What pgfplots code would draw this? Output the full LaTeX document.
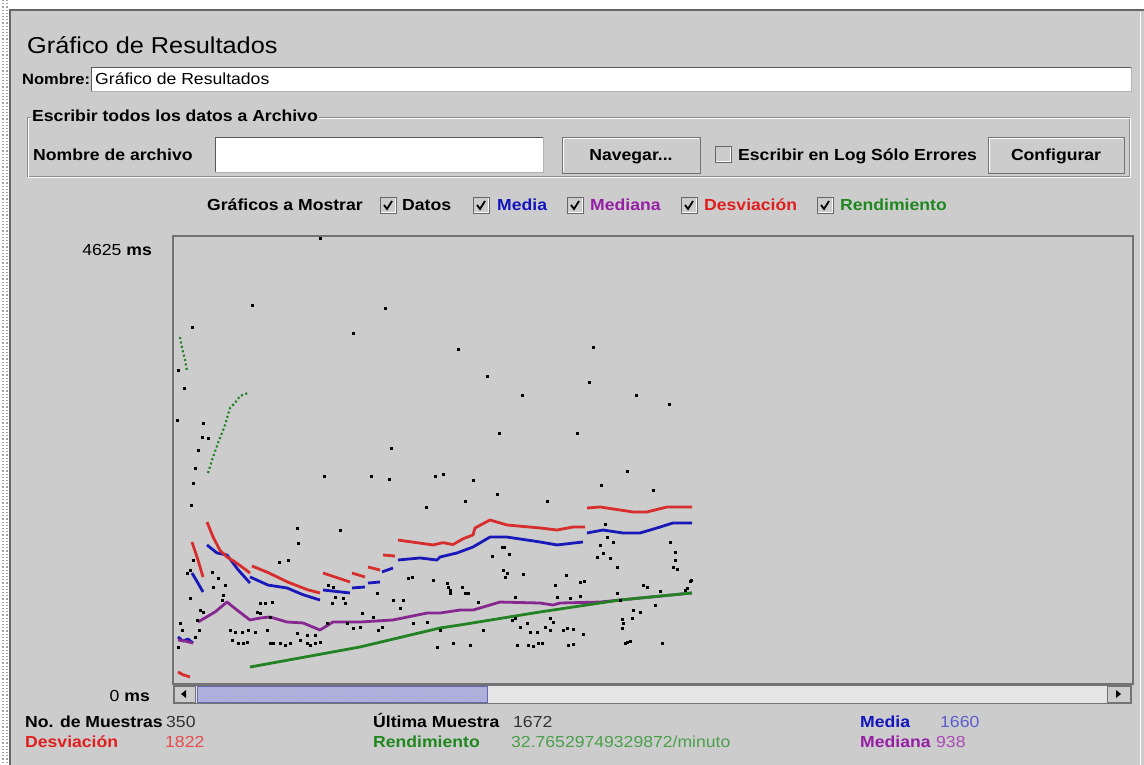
\documentclass[border=0pt]{standalone}
\usepackage{fontspec}
\setmainfont{Liberation Sans}[FakeStretch=1.1]
\usepackage{pgfplots}
\pgfplotsset{compat=1.18}
\usetikzlibrary{patterns}
\definecolor{bg}{RGB}{204,204,204}
\definecolor{jblue}{RGB}{20,20,190}
\definecolor{jpurple}{RGB}{150,30,165}
\definecolor{jred}{RGB}{225,30,30}
\definecolor{jgreen}{RGB}{30,135,30}
\definecolor{lred}{RGB}{215,45,45}
\definecolor{lblue}{RGB}{25,25,185}
\definecolor{lpurple}{RGB}{135,40,145}
\definecolor{lgreen}{RGB}{35,130,35}
\definecolor{thumb}{RGB}{172,172,225}
\newcommand\B{\fontsize{16}{19}\selectfont\bfseries}
\newcommand\R{\fontsize{16}{19}\selectfont}
\pgfplotstableread{
x y
147 4740
79 4044
212 4013
180 3754
285 3588
19 3816
5 3370
11 3184
4 2852
30 2821
29 2675
218 2561
314 3308
349 3111
420 3609
416 3246
463 3111
496 3018
326 2717
404 2717
35 2665
25 2541
22 2354
20 2198
18 1970
151 2271
198 2271
216 2240
262 2271
270 2292
253 1950
124 1732
167 1711
125 1576
106 1379
115 1400
39 1276
45 1213
40 1120
52 1141
17 1006
27 881
30 861
24 778
49 985
50 1037
87 954
92 954
99 964
155 1141
160 1120
162 1016
159 954
170 1006
172 954
204 1058
220 985
230 985
227 902
239 1224
235 1213
260 1193
274 1161
275 1120
277 1089
189 850
200 809
209 705
205 674
187 705
180 695
84 861
87 850
97 809
57 674
62 653
69 653
75 674
59 570
65 539
70 539
74 550
82 653
94 674
97 539
100 539
107 539
112 519
117 539
124 643
127 570
134 539
137 519
142 539
147 550
134 622
142 622
154 747
174 747
240 747
254 757
264 498
280 539
267 674
7 747
9 674
5 498
22 601
26 674
17 1296
20 1400
14 1265
300 2230
324 2084
292 2012
374 2012
454 2323
428 2178
480 2126
432 1773
434 1638
440 1587
427 1556
430 1473
424 1431
437 1421
444 1327
329 1535
331 1535
319 1441
336 1462
497 1587
502 1483
502 1400
500 1327
504 1307
277 1058
289 1120
292 1058
295 1058
330 1296
334 1265
332 1224
350 1255
393 1244
407 1172
411 1182
382 1141
444 1058
447 985
470 1141
474 1120
487 1078
517 1182
512 1089
342 1016
384 1016
397 1006
407 1027
305 964
342 798
339 778
347 705
354 747
357 653
364 653
372 705
377 798
380 757
377 674
390 674
394 695
400 684
410 633
449 788
450 747
449 695
459 798
460 881
467 861
454 550
457 560
452 539
489 539
482 933
297 519
344 519
355 519
360 508
365 539
369 539
395 519
400 529
310 674
518 1193
514 1110
}\datos
\begin{document}
\begin{tikzpicture}[x=1pt,y=1pt]
\useasboundingbox (0,0) rectangle (1144,-765);
\fill[white] (0,0) rectangle (1144,-765);
\fill[bg] (10,-10) rectangle (1144,-765);
\draw[black!35, dotted, line width=1.2pt] (3,0) -- (3,-765);
\draw[black!35, dotted, line width=1.2pt] (7,0) -- (7,-765);
\draw[black!60, line width=1.6pt] (10,-765) -- (10,-10) -- (1144,-10);
\draw[white, line width=0.8pt] (1140,-12) -- (1140,-765);
% title
\node[anchor=base west, inner sep=0] at (27,-54) {\fontsize{23}{27}\selectfont Gráfico de Resultados};
% Nombre row
\node[anchor=base west, inner sep=0] at (22,-85) {\fontsize{15}{18}\selectfont\bfseries Nombre:};
\fill[white] (91,-67) rectangle (1131,-91);
\draw[black!65] (91,-91) -- (91,-67) -- (1131,-67);
\draw[black!30] (1131,-67) -- (1131,-91) -- (91,-91);
\node[anchor=base west, inner sep=0] at (95,-85) {\R Gráfico de Resultados};
% group box
\draw[black!45] (27,-117) rectangle (1129,-176);
\draw[white] (28,-118) rectangle (1130,-177);
\node[anchor=base west, inner sep=1pt, fill=bg] at (31,-122) {\B Escribir todos los datos a Archivo};
\node[anchor=base west, inner sep=0] at (33,-161) {\B Nombre de archivo};
\fill[white] (215,-137) rectangle (543,-172);
\draw[black!65] (215,-172) -- (215,-137) -- (543,-137);
\draw[black!30] (543,-137) -- (543,-172) -- (215,-172);
% buttons
\foreach \a/\b in {562/700, 988/1124}{
  \draw[black!55, fill=bg] (\a,-137) rectangle (\b,-173);
  \draw[white] (\a+1,-172) -- (\a+1,-138) -- (\b-1,-138);
}
\node[anchor=base, inner sep=0] at (631,-161) {\B Navegar...};
\node[anchor=base, inner sep=0] at (1056,-161) {\B Configurar};
\draw[black!60, fill=bg] (715,-146) rectangle (731,-162);
\draw[white] (716,-161) -- (730,-161) -- (730,-147);
\node[anchor=base west, inner sep=0] at (738,-161) {\B Escribir en Log Sólo Errores};
% checkbox row
\node[anchor=base west, inner sep=0] at (207,-211) {\B Gráficos a Mostrar};
\foreach \x in {380,473,567,681,817}{
  \begin{scope}[shift={(\x,-205)}]
    \draw[black!60, fill=bg] (0,8) rectangle (16,-8);
    \draw[white] (1,-7) -- (15,-7) -- (15,7);
    \draw[black, line width=1.8pt] (4,0) -- (7,-4) -- (12,4);
  \end{scope}
}
\node[anchor=base west, inner sep=0] at (402,-211) {\B Datos};
\node[anchor=base west, inner sep=0] at (497,-211) {\B\color{jblue} Media};
\node[anchor=base west, inner sep=0] at (590,-211) {\B\color{jpurple} Mediana};
\node[anchor=base west, inner sep=0] at (704,-211) {\B\color{jred} Desviación};
\node[anchor=base west, inner sep=0] at (840,-211) {\B\color{jgreen} Rendimiento};
% plot
\begin{axis}[at={(173pt,-236pt)}, anchor=north west, width=960pt, height=448pt,
  scale only axis, xmin=0, xmax=960, ymin=114, ymax=4760,
  xtick=\empty, ytick=\empty,
  axis line style={draw=black!55, line width=1.2pt},
  axis background/.style={fill=bg},
  unbounded coords=jump, clip=true]
\addplot[only marks, mark=square*, mark size=1pt, black] table {\datos};
\addplot[lblue, line width=2.8pt, line join=round] coordinates {
(5,601)(10,560)(15,580)(20,539) (20,nan)
(19,1265)(25,1160)(30,1068) (31,nan)
(34,1556)(44,1473)(54,1452)(65,1300)(77,1161) (77,nan)
(77,1224)(95,1140)(114,1110)(130,1040)(147,985) (148,nan)
(150,1089)(177,1058) (178,nan)
(179,1110)(192,1120) (193,nan)
(195,1161)(207,1172) (208,nan)
(209,1276)(220,1317) (222,nan)
(225,1400)(247,1421)(264,1400)(267,1431)(284,1473)(300,1535)(317,1638)(334,1638)(367,1587)(384,1556)(410,1587) (412,nan)
(414,1680)(430,1711)(450,1680)(467,1680)(484,1732)(500,1784)(519,1784)};
\addplot[lpurple, line width=2.8pt, line join=round] coordinates {
(5,570)(12,560)(20,539) (22,nan)
(25,757)(42,861)(54,964)(64,881)(77,778)(87,798)(97,809)(114,757)(130,747)(147,674)(160,757)(187,757)(220,778)(254,850)(267,850)(287,881)(300,881)(327,964)(367,954)(380,933)(387,954)(427,964)(447,985)(519,1058)};
\addplot[lred, line width=2.8pt, line join=round] coordinates {
(5,239)(10,210)(17,187) (18,nan)
(19,1587)(25,1400)(30,1224) (32,nan)
(34,1794)(40,1640)(47,1500)(54,1431)(62,1380)(70,1320)(77,1265) (78,nan)
(79,1338)(95,1270)(115,1170)(135,1090)(147,1058) (148,nan)
(150,1265)(177,1172) (178,nan)
(179,1265)(192,1224) (193,nan)
(195,1327)(207,1296) (208,nan)
(210,1452)(222,1441) (223,nan)
(225,1607)(260,1556)(270,1580)(280,1560)(290,1620)(300,1660)(302,1732)(317,1815)(334,1763)(367,1732)(384,1711)(400,1742)(412,1742) (413,nan)
(414,1939)(427,1950)(460,1898)(474,1898)(494,1950)(519,1950)};
\addplot[lgreen, line width=2.2pt, dash pattern=on 2pt off 2.5pt] coordinates {
(7,3712)(9,3600)(12,3475)(14,3360) (20,nan)
(35,2302)(40,2468)(45,2613)(49,2717)(52,2800)(57,2976)(62,3028)(67,3101)(75,3132)};
\addplot[lgreen, line width=2.8pt, line join=round] coordinates {
(77,290)(187,498)(267,695)(287,726)(367,861)(447,985)(519,1058)};
\end{axis}
% y labels
\node[anchor=base east, inner sep=0] at (152,-255) {\R 4625 \B ms};
\node[anchor=base east, inner sep=0] at (150,-701) {\R 0 \B ms};
% scrollbar
\fill[black!10] (173,-685) rectangle (1131,-703);
\draw[black!55] (173,-685) rectangle (1131,-703);
\draw[black!55, fill=bg] (174,-686) rectangle (195,-702);
\fill[black] (181,-694) -- (186,-690) -- (186,-698) -- cycle;
\draw[black!55, fill=bg] (1107,-686) rectangle (1130,-702);
\fill[black] (1121,-694) -- (1116,-690) -- (1116,-698) -- cycle;
\fill[thumb] (197,-686) rectangle (487,-702);
\fill[pattern=crosshatch dots, pattern color=black!25] (197,-686) rectangle (487,-702);
\draw[black!50!blue!60] (197,-686) rectangle (487,-702);
% bottom stats
\node[anchor=base west, inner sep=0] at (25,-727) {\B No. de Muestras};
\node[anchor=base west, inner sep=0] at (166,-727) {\R\color{black!80} 350};
\node[anchor=base west, inner sep=0] at (373,-727) {\B Última Muestra};
\node[anchor=base west, inner sep=0] at (513,-727) {\R\color{black!80} 1672};
\node[anchor=base west, inner sep=0] at (860,-727) {\B\color{jblue} Media};
\node[anchor=base west, inner sep=0] at (940,-727) {\R\color{jblue!70} 1660};
\node[anchor=base west, inner sep=0] at (25,-747) {\B\color{jred} Desviación};
\node[anchor=base west, inner sep=0] at (165,-747) {\R\color{jred!80} 1822};
\node[anchor=base west, inner sep=0] at (373,-747) {\B\color{jgreen} Rendimiento};
\node[anchor=base west, inner sep=0] at (511,-747) {\R\color{jgreen!80} 32.76529749329872/minuto};
\node[anchor=base west, inner sep=0] at (860,-747) {\B\color{jpurple} Mediana};
\node[anchor=base west, inner sep=0] at (936,-747) {\R\color{jpurple!80} 938};
\end{tikzpicture}
\end{document}
